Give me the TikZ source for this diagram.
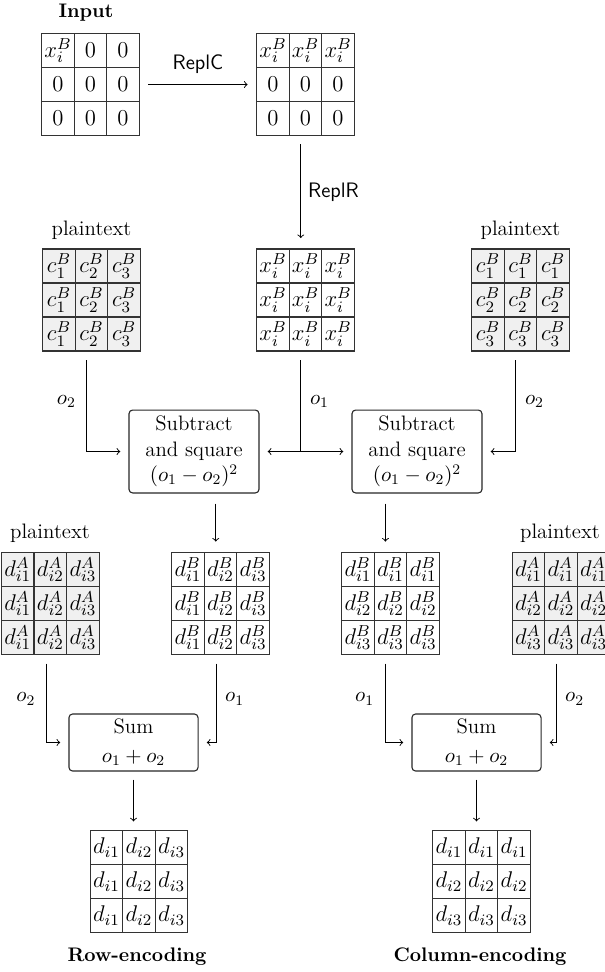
\RequirePackage{fix-cm}
\documentclass[tikz,border=0pt]{standalone}
\usetikzlibrary{matrix,calc}
\begin{document}
\fontsize{11.5}{14}\selectfont
\begin{tikzpicture}[x=0.55pt,y=-0.55pt,
  cell/.style={draw=black!80, line width=0.6pt, minimum width=17.9pt, minimum height=18.7pt, inner sep=0pt, anchor=center, font=\fontsize{12.5}{14}\selectfont},
  grid/.style={matrix of math nodes, nodes={cell}, column sep=-0.6pt, row sep=-0.6pt, inner sep=0pt},
  shaded/.style={grid, nodes={fill=black!6}},
  opbox/.style={draw=black!85, rounded corners=2pt, line width=0.6pt, align=center, inner sep=0pt},
  conn/.style={->, line width=0.5pt, shorten <=4.5pt, shorten >=4.5pt},
  title/.style={font=\fontsize{10.8}{13}\selectfont\bfseries},
]
\useasboundingbox (0,0) rectangle (605,972);

% top row
\node[title] (tin) at (86,13) {Input};
\matrix (m1) [grid] at (90.5,84.5) {x_i^B & 0 & 0\\ 0 & 0 & 0\\ 0 & 0 & 0\\};
\matrix (m2) [grid] at (305.5,84.5) {x_i^B & x_i^B & x_i^B\\ 0 & 0 & 0\\ 0 & 0 & 0\\};
\draw[conn] (m1) -- (m2) node[midway, yshift=11pt, font=\sffamily] (lc) {ReplC};

% second row
\node (pl1) at (91.5,230) {plaintext};
\node (pl2) at (520.5,230) {plaintext};
\matrix (m3) [shaded] at (91.5,300) {c_1^B & c_2^B & c_3^B\\ c_1^B & c_2^B & c_3^B\\ c_1^B & c_2^B & c_3^B\\};
\matrix (m4) [grid] at (305.5,300) {x_i^B & x_i^B & x_i^B\\ x_i^B & x_i^B & x_i^B\\ x_i^B & x_i^B & x_i^B\\};
\matrix (m5) [shaded] at (520.5,300) {c_1^B & c_1^B & c_1^B\\ c_2^B & c_2^B & c_2^B\\ c_3^B & c_3^B & c_3^B\\};
\draw[conn, shorten <=4.4pt, shorten >=5.5pt] ([xshift=-2.6pt]m2.south) -- ([xshift=-2.6pt]m4.north) node[midway, xshift=18pt, font=\sffamily] (lr) {ReplR};

% subtract boxes
\node[opbox, minimum width=71.5pt, minimum height=45.6pt] (b1) at (194,451.5) {Subtract\\and square\\$(o_1-o_2)^2$};
\node[opbox, minimum width=71.5pt, minimum height=45.6pt] (b2) at (417,451.5) {Subtract\\and square\\$(o_1-o_2)^2$};

\draw[conn] ([xshift=-2.6pt]m3.south) |- (b1.west) node[pos=0.25, left=2pt] {$o_2$};
\coordinate (j) at ([xshift=-2.6pt]m4.south |- b1.east);
\draw[line width=0.5pt, shorten <=4.5pt] ([xshift=-2.6pt]m4.south) -- (j) node[pos=0.5, right=1pt] {$o_1$};
\draw[->, line width=0.5pt, shorten >=4.5pt] (j) -- (b1.east);
\draw[->, line width=0.5pt, shorten >=4.5pt] (j) -- (b2.west);
\draw[conn] ([xshift=-2.6pt]m5.south) |- (b2.east) node[pos=0.25, right=1pt] {$o_2$};

% third row
\node (pl3) at (50,533) {plaintext};
\node (pl4) at (560,533) {plaintext};
\matrix (dAl) [shaded] at (50.3,603.5) {d_{i1}^A & d_{i2}^A & d_{i3}^A\\ d_{i1}^A & d_{i2}^A & d_{i3}^A\\ d_{i1}^A & d_{i2}^A & d_{i3}^A\\};
\matrix (dBl) [grid] at (220.5,603.5) {d_{i1}^B & d_{i2}^B & d_{i3}^B\\ d_{i1}^B & d_{i2}^B & d_{i3}^B\\ d_{i1}^B & d_{i2}^B & d_{i3}^B\\};
\matrix (dBr) [grid] at (390.5,603.5) {d_{i1}^B & d_{i1}^B & d_{i1}^B\\ d_{i2}^B & d_{i2}^B & d_{i2}^B\\ d_{i3}^B & d_{i3}^B & d_{i3}^B\\};
\matrix (dAr) [shaded] at (561,603.5) {d_{i1}^A & d_{i1}^A & d_{i1}^A\\ d_{i2}^A & d_{i2}^A & d_{i2}^A\\ d_{i3}^A & d_{i3}^A & d_{i3}^A\\};

\draw[conn, shorten <=5.5pt, shorten >=5.5pt] ([xshift=-2.6pt]dBl.north |- b1.south) -- ([xshift=-2.6pt]dBl.north);
\draw[conn, shorten <=5.5pt, shorten >=5.5pt] ([xshift=-2.8pt]dBr.north |- b2.south) -- ([xshift=-2.8pt]dBr.north);

% sum boxes
\node[opbox, minimum width=71pt, minimum height=31.35pt] (s1) at (133.5,742.5) {Sum\\[2pt]$o_1+o_2$};
\node[opbox, minimum width=71pt, minimum height=31.35pt] (s2) at (476.5,742.5) {Sum\\[2pt]$o_1+o_2$};

\draw[conn] ([xshift=-2.2pt]dAl.south) |- (s1.west) node[pos=0.25, left=2pt] {$o_2$};
\draw[conn] ([xshift=-2.5pt]dBl.south) |- (s1.east) node[pos=0.25, right=1pt] {$o_1$};
\draw[conn] ([xshift=-3pt]dBr.south) |- (s2.west) node[pos=0.25, left=2pt] {$o_1$};
\draw[conn] ([xshift=-2.75pt]dAr.south) |- (s2.east) node[pos=0.25, right=1pt] {$o_2$};

% results
\matrix (rowm) [grid] at (139,881.5) {d_{i1} & d_{i2} & d_{i3}\\ d_{i1} & d_{i2} & d_{i3}\\ d_{i1} & d_{i2} & d_{i3}\\};
\matrix (colm) [grid] at (481.5,881.5) {d_{i1} & d_{i1} & d_{i1}\\ d_{i2} & d_{i2} & d_{i2}\\ d_{i3} & d_{i3} & d_{i3}\\};
\draw[conn] (s1.south) -- (s1.south |- rowm.north);
\draw[conn] (s2.south) -- (s2.south |- colm.north);

\node[title] (trow) at (137,957) {Row-encoding};
\node[title] (tcol) at (480,957) {Column-encoding};
\end{tikzpicture}
\end{document}
